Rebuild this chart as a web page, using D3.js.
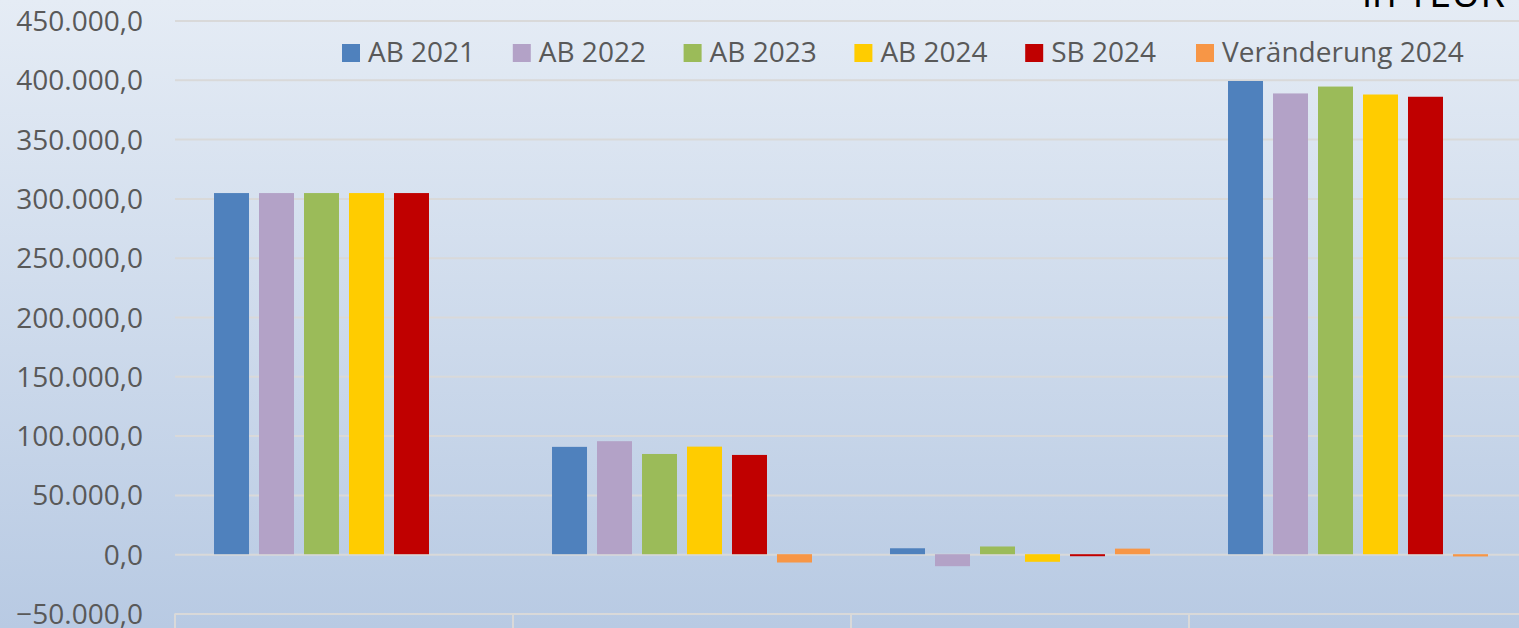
<!DOCTYPE html>
<html>
<head>
<meta charset="utf-8">
<script src="https://cdn.jsdelivr.net/npm/d3@7"></script>
<style>
  html, body { margin: 0; padding: 0; overflow: hidden; }
  svg { display: block; font-family: 'Open Sans', sans-serif; }
</style>
</head>
<body>
<svg id="chart" width="1519" height="628"></svg>
<script>
// data (TEUR)
const categories = ['Eigenkapital', 'Rückstellungen', 'Sonderposten', 'Bilanzsumme'];
const seriesNames = ['AB 2021', 'AB 2022', 'AB 2023', 'AB 2024', 'SB 2024', 'Veränderung 2024'];
const ab2021 = [304500, 90500, 5000, 399000];
const ab2022 = [304500, 95300, -10100, 388500];
const ab2023 = [304500, 84500, 6500, 394300];
const ab2024 = [304500, 90700, -6400, 387600];
const sb2024 = [304500, 83700, -1700, 385700];
const veraenderung = [0, -7000, 4700, -1900];
const yTicks = [-50000, 0, 50000, 100000, 150000, 200000, 250000, 300000, 350000, 400000, 450000];

const COLORS = ['#4f81bd', '#b3a2c7', '#9bbb59', '#ffcc00', '#c00000', '#f79646'];
const seriesValues = [ab2021, ab2022, ab2023, ab2024, sb2024, veraenderung];

const width = 1519;
const height = 628;
const plotLeft = 175;
const plotRight = 1527;

const svg = d3.select('#chart');

const defs = svg.append('defs');
const grad = defs.append('linearGradient')
  .attr('id', 'bg')
  .attr('x1', 0).attr('y1', 0).attr('x2', 0).attr('y2', 1);
grad.append('stop').attr('offset', '0%').attr('stop-color', '#e5ecf5');
grad.append('stop').attr('offset', '100%').attr('stop-color', '#b8cae3');

svg.append('rect')
  .attr('width', width)
  .attr('height', height)
  .attr('fill', 'url(#bg)');

const yScale = d3.scaleLinear()
  .domain([-50000, 450000])
  .range([613.5, 20.5]);

const xScale = d3.scaleBand()
  .domain(categories)
  .range([plotLeft, plotRight])
  .paddingInner(0)
  .paddingOuter(0);

const xInner = d3.scaleBand()
  .domain(seriesNames)
  .range([0, xScale.bandwidth()])
  .paddingInner(0.2222)
  .paddingOuter(0.867);

const fmt = d3.formatLocale({ decimal: ',', thousands: '.', grouping: [3], currency: ['', ' €'] }).format(',.1f');

// gridlines
svg.append('g')
  .attr('class', 'grid')
  .attr('transform', `translate(${plotLeft}, 0)`)
  .call(
    d3.axisLeft(yScale)
      .tickValues(yTicks)
      .tickSize(-(width - plotLeft))
      .tickFormat('')
  )
  .call((g) => g.select('.domain').remove())
  .selectAll('line')
  .attr('stroke', '#d9d9d9')
  .attr('stroke-width', 2);

// y axis labels
svg.append('g')
  .attr('transform', `translate(${plotLeft}, 0)`)
  .call(
    d3.axisLeft(yScale)
      .tickValues(yTicks)
      .tickSize(0)
      .tickPadding(32)
      .tickFormat(fmt)
  )
  .call((g) => g.select('.domain').remove())
  .selectAll('text')
  .attr('dy', '0.36em')
  .style('font-family', "'Open Sans', sans-serif")
  .style('font-size', '28px')
  .attr('fill', '#595959');

// category axis with separators
const catAxis = svg.append('g')
  .attr('transform', `translate(0, ${yScale(-50000)})`)
  .call(
    d3.axisBottom(xScale)
      .tickSize(0)
      .tickFormat('')
  );
catAxis.select('.domain').remove();

svg.append('g')
  .selectAll('line')
  .data(categories)
  .join('line')
  .attr('x1', (d) => xScale(d))
  .attr('x2', (d) => xScale(d))
  .attr('y1', yScale(-50000))
  .attr('y2', height + 10)
  .attr('stroke', '#d9d9d9')
  .attr('stroke-width', 2);

svg.append('g')
  .selectAll('text')
  .data(categories)
  .join('text')
  .attr('x', (d) => xScale(d) + xScale.bandwidth() / 2)
  .attr('y', 650)
  .attr('text-anchor', 'middle')
  .style('font-size', '28px')
  .style('font-weight', 'bold')
  .attr('fill', '#000')
  .text((d) => d);

// bars
const barData = [];
categories.forEach((c, ci) => {
  seriesNames.forEach((s, si) => {
    barData.push({ category: c, series: s, value: seriesValues[si][ci], color: COLORS[si] });
  });
});

svg.append('g')
  .selectAll('rect')
  .data(barData.filter((d) => d.value !== 0))
  .join('rect')
  .attr('x', (d) => xScale(d.category) + xInner(d.series))
  .attr('y', (d) => yScale(Math.max(0, d.value)))
  .attr('width', xInner.bandwidth())
  .attr('height', (d) => Math.abs(yScale(d.value) - yScale(0)))
  .attr('fill', (d) => d.color);

// legend
const legend = svg.append('g')
  .attr('transform', 'translate(342, 44)');

const legendItems = legend.selectAll('g')
  .data(seriesNames)
  .join('g')
  .attr('transform', (d, i) => `translate(${i * 170.8}, 0)`);

legendItems.append('rect')
  .attr('width', 18)
  .attr('height', 18)
  .attr('fill', (d, i) => COLORS[i]);

legendItems.append('text')
  .attr('x', 26)
  .attr('y', 18)
  .style('font-size', '28px')
  .attr('fill', '#595959')
  .text((d) => d);

// unit title, cut at the top
svg.append('text')
  .attr('x', 1505)
  .attr('y', 7)
  .attr('text-anchor', 'end')
  .style('font-size', '40px')
  .attr('fill', '#000')
  .text('in TEUR');
</script>
</body>
</html>
